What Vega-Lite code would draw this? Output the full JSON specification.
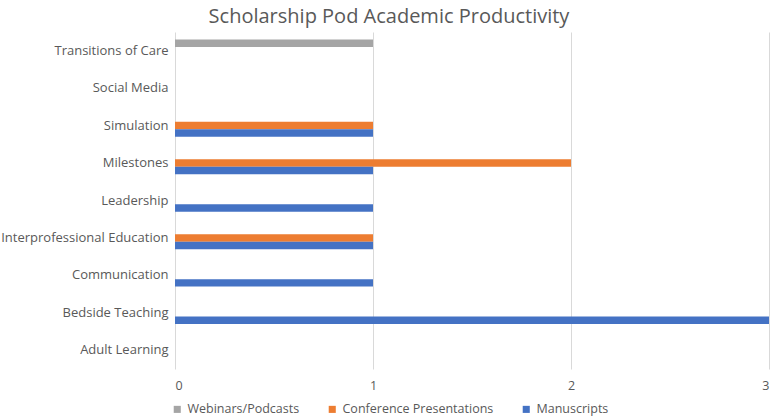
{
  "$schema": "https://vega.github.io/schema/vega-lite/v6.json",
  "width": 594,
  "height": 337,
  "autosize": {"type": "none"},
  "padding": {"left": 175, "top": 32, "right": 6, "bottom": 48},
  "background": "white",
  "title": {
    "text": "Scholarship Pod Academic Productivity",
    "font": "Open Sans",
    "fontSize": 20,
    "fontWeight": "normal",
    "color": "#595959",
    "anchor": "middle",
    "dx": -83,
    "offset": 5
  },
  "config": {
    "view": {"stroke": null},
    "font": "Open Sans"
  },
  "data": {
    "values": [
      {"category": "Transitions of Care", "series": "Webinars/Podcasts", "value": 1},
      {"category": "Simulation", "series": "Conference Presentations", "value": 1},
      {"category": "Simulation", "series": "Manuscripts", "value": 1},
      {"category": "Milestones", "series": "Conference Presentations", "value": 2},
      {"category": "Milestones", "series": "Manuscripts", "value": 1},
      {"category": "Leadership", "series": "Manuscripts", "value": 1},
      {"category": "Interprofessional Education", "series": "Conference Presentations", "value": 1},
      {"category": "Interprofessional Education", "series": "Manuscripts", "value": 1},
      {"category": "Communication", "series": "Manuscripts", "value": 1},
      {"category": "Bedside Teaching", "series": "Manuscripts", "value": 3}
    ]
  },
  "mark": {"type": "bar"},
  "encoding": {
    "y": {
      "field": "category",
      "type": "nominal",
      "title": null,
      "scale": {
        "domain": ["Transitions of Care", "Social Media", "Simulation", "Milestones", "Leadership", "Interprofessional Education", "Communication", "Bedside Teaching", "Adult Learning"],
        "paddingInner": 0.4,
        "paddingOuter": 0.2
      },
      "axis": {
        "domain": false,
        "ticks": false,
        "grid": false,
        "labelPadding": 7,
        "labelFontSize": 13,
        "labelColor": "#595959",
        "labelFont": "Open Sans"
      }
    },
    "yOffset": {
      "field": "series",
      "type": "nominal",
      "scale": {"domain": ["Webinars/Podcasts", "Conference Presentations", "Manuscripts"]}
    },
    "x": {
      "field": "value",
      "type": "quantitative",
      "title": null,
      "scale": {"domain": [0, 3], "nice": false},
      "axis": {
        "values": [0, 1, 2, 3],
        "format": "d",
        "domain": false,
        "ticks": false,
        "grid": true,
        "gridColor": "#D9D9D9",
        "gridWidth": 1,
        "labelPadding": 10,
        "labelFontSize": 12.5,
        "labelColor": "#595959",
        "labelFont": "Open Sans"
      }
    },
    "color": {
      "field": "series",
      "type": "nominal",
      "scale": {
        "domain": ["Webinars/Podcasts", "Conference Presentations", "Manuscripts"],
        "range": ["#A5A5A5", "#ED7D31", "#4472C4"]
      },
      "legend": {
        "title": null,
        "orient": "none",
        "direction": "horizontal",
        "legendX": -4,
        "legendY": 371,
        "symbolType": "square",
        "symbolSize": 50,
        "symbolStrokeWidth": 0,
        "labelFontSize": 12.5,
        "labelColor": "#595959",
        "labelFont": "Open Sans",
        "columnPadding": 26,
        "labelOffset": 4
      }
    }
  }
}
